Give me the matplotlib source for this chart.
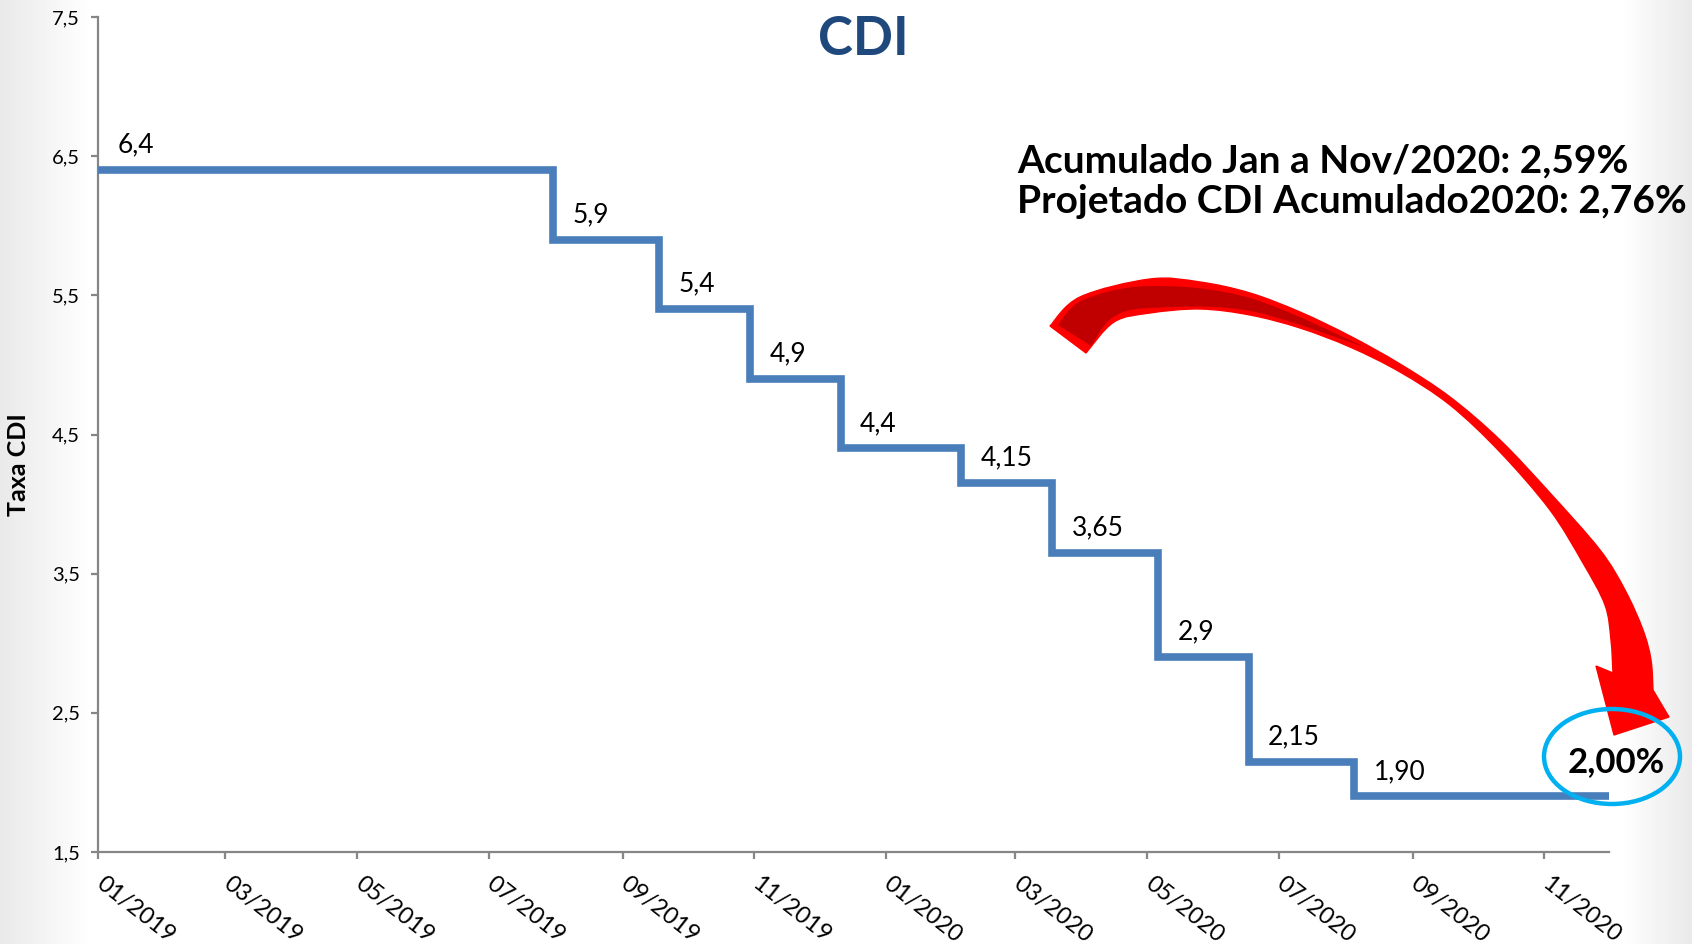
import matplotlib
matplotlib.use('Agg')
import matplotlib.pyplot as plt
import numpy as np
import pandas as pd
from matplotlib.patches import PathPatch, Ellipse
from matplotlib.path import Path
from matplotlib.transforms import ScaledTranslation

plt.rcParams['font.family'] = ['Lato', 'DejaVu Sans']

# dados do gráfico
change_dates = ['2019-01-01', '2019-07-31', '2019-09-18', '2019-10-30', '2019-12-11',
                '2020-02-05', '2020-03-18', '2020-05-06', '2020-06-17', '2020-08-05']
cdi_values = [6.4, 5.9, 5.4, 4.9, 4.4, 4.15, 3.65, 2.9, 2.15, 1.90]
value_labels = ['6,4', '5,9', '5,4', '4,9', '4,4', '4,15', '3,65', '2,9', '2,15', '1,90']
end_date = '2020-12-01'

x_tick_dates = ['2019-01-01', '2019-03-01', '2019-05-01', '2019-07-01', '2019-09-01',
                '2019-11-01', '2020-01-01', '2020-03-01', '2020-05-01', '2020-07-01',
                '2020-09-01', '2020-11-01']
x_tick_labels = ['01/2019', '03/2019', '05/2019', '07/2019', '09/2019', '11/2019',
                 '01/2020', '03/2020', '05/2020', '07/2020', '09/2020', '11/2020']
y_ticks = [1.5, 2.5, 3.5, 4.5, 5.5, 6.5, 7.5]
y_tick_labels = ['1,5', '2,5', '3,5', '4,5', '5,5', '6,5', '7,5']

W, H = 1692, 944
fig = plt.figure(figsize=(W / 100, H / 100), dpi=100)


def px(x, y):
    return (x / W, 1 - y / H)


def smooth_path(points):
    # curva suave (Catmull-Rom -> Bezier) pelos pontos dados
    p = np.array(points, dtype=float)
    verts, codes = [tuple(p[0])], [Path.MOVETO]
    n = len(p)
    for i in range(n - 1):
        p0 = p[i - 1] if i > 0 else p[i]
        p1, p2 = p[i], p[i + 1]
        p3 = p[i + 2] if i + 2 < n else p[i + 1]
        c1 = p1 + (p2 - p0) / 6
        c2 = p2 - (p3 - p1) / 6
        verts += [tuple(c1), tuple(c2), tuple(p2)]
        codes += [Path.CURVE4] * 3
    return verts, codes


# fundo do slide (leve degradê nas bordas)
bg = fig.add_axes([0, 0, 1, 1], zorder=-10)
xx = np.linspace(0, W, 400)
yy = np.linspace(0, H, 200)
gx, gy = np.meshgrid(xx, yy)
shade = np.clip(np.minimum(gx / 90, (W - gx) / 70), 0, 1)
shade = np.minimum(shade, np.clip(np.hypot(gx, gy) / 60, 0, 1))
bg.imshow(0.915 + 0.085 * shade, cmap='gray', vmin=0, vmax=1, aspect='auto',
          extent=[0, 1, 0, 1], interpolation='bilinear')
bg.axis('off')

ax = fig.add_axes([98 / W, 1 - 852 / H, (1609 - 98) / W, (852 - 17) / H])
ax.patch.set_alpha(0)

dates = pd.to_datetime(change_dates + [end_date])
vals = cdi_values + [cdi_values[-1]]
ax.step(dates, vals, where='post', color='#4A7EBB', lw=5.5,
        solid_joinstyle='miter', solid_capstyle='butt', clip_on=False, zorder=3)

for d, v, s in zip(dates[:-1], cdi_values, value_labels):
    ax.annotate(s, (d, v), xytext=(14, 18), textcoords='offset points',
                ha='left', va='center', fontsize=19)

ax.set_xlim(dates[0], dates[-1])
ax.set_ylim(1.5, 7.5)
for side in ['top', 'right']:
    ax.spines[side].set_visible(False)
for side in ['left', 'bottom']:
    ax.spines[side].set_color('#868686')
    ax.spines[side].set_linewidth(1.6)

ax.set_yticks(y_ticks)
ax.set_yticklabels(y_tick_labels)
ax.set_xticks(pd.to_datetime(x_tick_dates))
ax.set_xticklabels(x_tick_labels, rotation=-38, ha='left', va='top', rotation_mode='anchor')
ax.tick_params(axis='y', labelsize=14.5, color='#868686', width=1.6, length=5, pad=8)
ax.tick_params(axis='x', labelsize=17, color='#868686', width=1.6, length=5, pad=10)
shift = ScaledTranslation(5 / 72, 0, fig.dpi_scale_trans)
for lbl in ax.get_xticklabels():
    lbl.set_transform(lbl.get_transform() + shift)

fig.text(*px(19, 465), 'Taxa CDI', rotation=90, ha='center', va='center',
         fontsize=18, fontweight='bold')

fig.text(*px(863, 55), 'CDI', ha='center', va='baseline', fontsize=38,
         fontweight='bold', color='#1F497D')
fig.text(*px(1017, 172), 'Acumulado Jan a Nov/2020: 2,59%', ha='left', va='baseline',
         fontsize=28, fontweight='bold')
fig.text(*px(1017, 213), 'Projetado CDI Acumulado2020: 2,76%', ha='left', va='baseline',
         fontsize=28, fontweight='bold')

# seta curva vermelha
outer_edge = [(1050, 326), (1080, 297), (1150, 279), (1200, 282), (1250, 293),
              (1300, 312), (1350, 336), (1400, 364), (1450, 397), (1500, 440),
              (1550, 493), (1600, 550), (1625, 590), (1643, 630), (1651, 660),
              (1653, 690)]
head = [(1669, 717), (1614, 735), (1596, 666)]
inner_edge = [(1613, 673), (1611, 640), (1605, 605), (1583, 563), (1550, 510),
              (1500, 452), (1450, 405), (1400, 372), (1350, 347), (1300, 328),
              (1250, 315), (1200, 309), (1150, 313), (1114, 322), (1086, 353)]

v1, c1 = smooth_path(outer_edge)
v2, c2 = smooth_path(inner_edge)
verts = v1 + head + v2 + [outer_edge[0]]
codes = c1 + [Path.LINETO] * len(head) + [Path.LINETO] + c2[1:] + [Path.CLOSEPOLY]
arrow = Path([px(*p) for p in verts], codes)
fig.add_artist(PathPatch(arrow, transform=fig.transFigure, facecolor='#FF0000',
                         edgecolor='#FF0000', lw=1, zorder=4))

dark_top = [(1058, 325), (1083, 300), (1150, 286), (1250, 298), (1367, 348)]
dark_bottom = [(1367, 348), (1250, 311), (1150, 308), (1112, 318), (1091, 346)]
d1, e1 = smooth_path(dark_top)
d2, e2 = smooth_path(dark_bottom)
dverts = d1 + d2[1:] + [dark_top[0]]
dcodes = e1 + e2[1:] + [Path.CLOSEPOLY]
dark = Path([px(*p) for p in dverts], dcodes)
fig.add_artist(PathPatch(dark, transform=fig.transFigure, facecolor='#C00000',
                         edgecolor='none', zorder=5))

fig.add_artist(Ellipse(px(1612, 756.5), 136 / W, 95 / H, transform=fig.transFigure,
                       fill=False, edgecolor='#00B0F0', lw=3.2, zorder=6))
fig.text(*px(1616, 772), '2,00%', ha='center', va='baseline', fontsize=25,
         fontweight='bold', zorder=7)

fig.savefig('out.png', dpi=100)
